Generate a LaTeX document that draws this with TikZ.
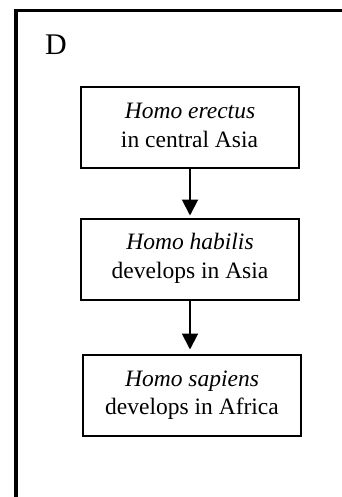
\documentclass[tikz,border=0pt]{standalone}
\usepackage{fontspec}
\setmainfont{Liberation Serif}
\usetikzlibrary{arrows.meta}
\begin{document}
\begin{tikzpicture}[x=1pt,y=-1pt,
  frame/.style={line width=3.6pt, line join=miter},
  box/.style={draw, line width=2pt, minimum width=218pt, minimum height=81pt, inner sep=0pt, outer sep=0pt},
  lbl/.style={anchor=base, inner sep=0pt, font=\fontsize{23.5}{29}\selectfont},
  conn/.style={line width=2pt, -{Triangle[width=16pt,length=16pt]}}
]
\useasboundingbox (0,0) rectangle (341,497);
\fill[white] (0,0) rectangle (341,497);
\draw[frame] (16,500) -- (16,10.5) -- (345,10.5);
\node[anchor=base west, inner sep=0pt, font=\fontsize{30}{36}\selectfont] (lab) at (45,55) {D};
\node[box] (b1) at (190,127.5) {};
\node[box] (b2) at (190,259.5) {};
\node[box] (b3) at (192,395.5) {};
\node[lbl] (t1a) at (190,118.5) {\textit{Homo erectus}};
\node[lbl] (t1b) at (189.5,147.5) {in central Asia};
\node[lbl] (t2a) at (190,249.5) {\textit{Homo habilis}};
\node[lbl] (t2b) at (190,278.5) {develops in Asia};
\node[lbl] (t3a) at (192,386) {\textit{Homo sapiens}};
\node[lbl] (t3b) at (192,414.5) {develops in Africa};
\coordinate (e1) at (190,215.5);
\coordinate (e2) at (190,349.5);
\draw[conn] (b1.south) -- (e1);
\draw[conn] (b2.south) -- (e2);
\end{tikzpicture}
\end{document}
